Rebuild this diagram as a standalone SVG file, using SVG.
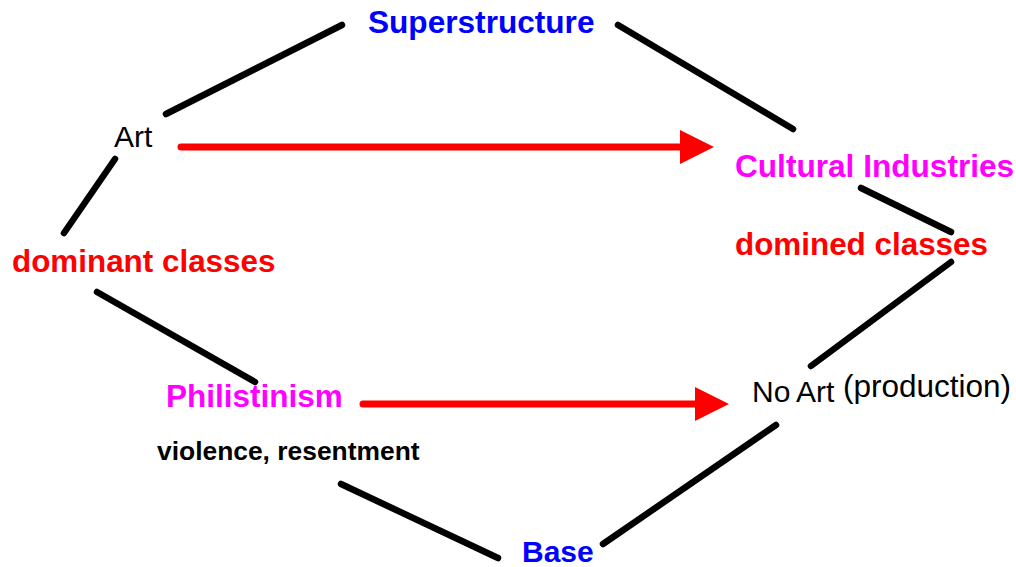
<svg xmlns="http://www.w3.org/2000/svg" width="1016" height="567" viewBox="0 0 1016 567">
  <style>
    .lbl { font-family: "Liberation Sans", Arial, sans-serif; }
    .b { font-weight: bold; }
    .blue { fill: #0000FF; }
    .red { fill: #FF0000; }
    .mag { fill: #FF00FF; }
    .blk { fill: #000000; }
    .edge { stroke: #000000; stroke-width: 6.5; stroke-linecap: round; fill: none; }
    .flow { stroke: #FF0000; stroke-width: 7; stroke-linecap: round; fill: none; }
  </style>
  <defs>
    <marker id="redHead" markerUnits="userSpaceOnUse" viewBox="0 0 34 34" refX="0" refY="17" markerWidth="34" markerHeight="34" orient="auto">
      <polygon points="0,0 34,17 0,34" fill="#FF0000"/>
    </marker>
  </defs>
  <rect width="1016" height="567" fill="#FFFFFF"/>

  <!-- black links between the labels -->
  <g id="connectors">
    <line class="edge" x1="166" y1="114" x2="342" y2="25"/>
    <line class="edge" x1="115" y1="159" x2="64" y2="233"/>
    <line class="edge" x1="618" y1="25" x2="793" y2="129"/>
    <line class="edge" x1="861" y1="188" x2="951" y2="232"/>
    <line class="edge" x1="951" y1="262" x2="811" y2="366"/>
    <line class="edge" x1="97" y1="292" x2="255" y2="382"/>
    <line class="edge" x1="341" y1="484" x2="498" y2="558"/>
    <line class="edge" x1="776" y1="425" x2="603" y2="544"/>
    <!-- red transition arrows -->
    <line class="flow" x1="181" y1="147" x2="680" y2="147" marker-end="url(#redHead)"/>
    <line class="flow" x1="363" y1="404" x2="695" y2="404" marker-end="url(#redHead)"/>
  </g>

  <g id="superstructure"><text class="lbl b blue" x="368" y="33" font-size="31.6">Superstructure</text></g>
  <g id="art"><text class="lbl blk" x="114" y="147" font-size="30">Art</text></g>
  <g id="dominant-classes"><text class="lbl b red" x="12" y="272" font-size="31.4">dominant classes</text></g>
  <g id="cultural-industries"><text class="lbl b mag" x="735" y="177" font-size="31.6">Cultural Industries</text></g>
  <g id="domined-classes"><text class="lbl b red" x="735" y="255" font-size="31.4">domined classes</text></g>
  <g id="philistinism"><text class="lbl b mag" x="166" y="407" font-size="31.5">Philistinism</text></g>
  <g id="violence"><text class="lbl b blk" x="157" y="460" font-size="26.4">violence, resentment</text></g>
  <g id="no-art">
    <text class="lbl blk" x="752" y="402" font-size="30">No</text>
    <text class="lbl blk" x="796" y="402" font-size="30">Art</text>
    <text class="lbl blk" x="843" y="397" font-size="31.5">(production)</text>
  </g>
  <g id="base"><text class="lbl b blue" x="522" y="562" font-size="30">Base</text></g>
</svg>
